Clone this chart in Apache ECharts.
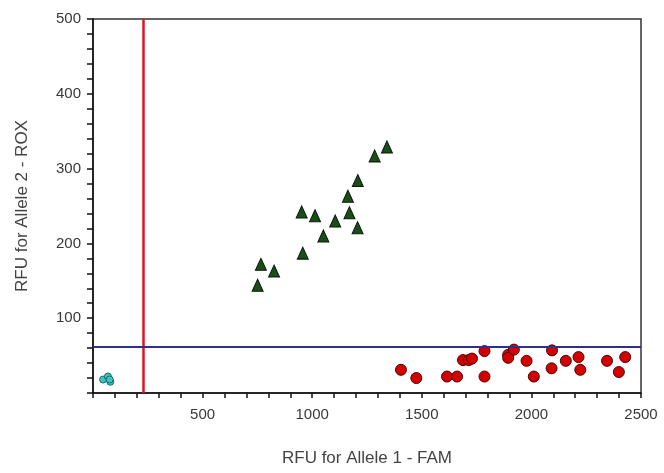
<!DOCTYPE html>
<html>
<head>
<meta charset="utf-8">
<script src="https://cdn.jsdelivr.net/npm/echarts@6/dist/echarts.min.js"></script>
<style>
  html, body { margin: 0; padding: 0; background: #fff; }
  #main { width: 664px; height: 473px; }
</style>
</head>
<body>
<div id="main"></div>
<script>
// cluster data, [FAM, ROX]
var allele2Points = [
  [1341, 329], [1285, 317], [1208, 284], [1163, 263], [1170, 241], [1207, 221],
  [1105, 230], [1051, 210], [1013, 237], [952, 242], [957, 187], [826, 163],
  [766, 172], [751, 144]
];
var allele1Points = [
  [1405, 31], [1475, 20], [1615, 22], [1661, 22], [1688, 44], [1714, 44],
  [1729, 46], [1786, 56], [1786, 22], [1894, 51], [1894, 47], [1920, 58],
  [1978, 43], [2011, 22], [2094, 57], [2092, 33], [2157, 43], [2215, 48],
  [2223, 31], [2345, 43], [2399, 28], [2428, 48]
];
var ntcPoints = [[46, 18], [68, 22], [79, 15], [76, 18]];
var famCutoff = 230;   // red vertical line
var roxCutoff = 62;    // blue horizontal line

var chart = echarts.init(document.getElementById('main'));

var tickLabel = {
  color: '#383838',
  fontFamily: 'Liberation Sans',
  fontSize: 15,
  formatter: function (v) { return v === 0 ? '' : v; }
};
var nameStyle = { color: '#444', fontFamily: 'Liberation Sans', fontSize: 17 };
var tickLine = { color: '#111', width: 1.5 };

chart.setOption({
  animation: false,
  backgroundColor: '#fff',
  grid: {
    left: 93, right: 23, top: 19, bottom: 80,
    show: true, borderColor: '#333', borderWidth: 1.5, backgroundColor: '#fff'
  },
  xAxis: {
    type: 'value',
    min: 0, max: 2500, interval: 500,
    name: 'RFU for Allele 1 - FAM',
    nameLocation: 'middle',
    nameGap: 57,
    nameTextStyle: nameStyle,
    axisLine: { show: true, lineStyle: tickLine },
    axisTick: { show: true, inside: false, length: 5, lineStyle: tickLine },
    minorTick: { show: true, splitNumber: 5, length: 5, lineStyle: tickLine },
    axisLabel: Object.assign({ margin: 14 }, tickLabel),
    splitLine: { show: false }
  },
  yAxis: {
    type: 'value',
    min: 0, max: 500, interval: 100,
    name: 'RFU for Allele 2 - ROX',
    nameLocation: 'middle',
    nameGap: 62,
    nameTextStyle: nameStyle,
    axisLine: { show: true, lineStyle: tickLine },
    axisTick: { show: true, inside: false, length: 6, lineStyle: tickLine },
    minorTick: { show: true, splitNumber: 5, length: 6, lineStyle: tickLine },
    axisLabel: Object.assign({ margin: 12 }, tickLabel),
    splitLine: { show: false }
  },
  series: [
    {
      name: 'cutoffs',
      type: 'scatter',
      data: [],
      markLine: {
        silent: true,
        symbol: 'none',
        label: { show: false },
        data: [
          { xAxis: famCutoff, lineStyle: { color: '#e0141e', width: 2.5, type: 'solid', opacity: 1 } },
          { yAxis: roxCutoff, lineStyle: { color: '#2e2e8c', width: 2, type: 'solid', opacity: 1 } }
        ]
      }
    },
    {
      name: 'Allele 2',
      type: 'scatter',
      symbol: 'triangle',
      symbolSize: [11, 12],
      data: allele2Points,
      itemStyle: { color: '#1a4d1a', borderColor: '#0a1a0a', borderWidth: 1, opacity: 1 }
    },
    {
      name: 'Allele 1',
      type: 'scatter',
      symbol: 'circle',
      symbolSize: 11,
      data: allele1Points,
      itemStyle: { color: '#d40000', borderColor: '#4a0606', borderWidth: 1, opacity: 1 }
    },
    {
      name: 'NTC',
      type: 'scatter',
      symbol: 'circle',
      symbolSize: 7,
      data: ntcPoints,
      itemStyle: { color: '#3cc4c4', borderColor: '#1a6a6a', borderWidth: 1, opacity: 1 }
    }
  ]
});
</script>
</body>
</html>
